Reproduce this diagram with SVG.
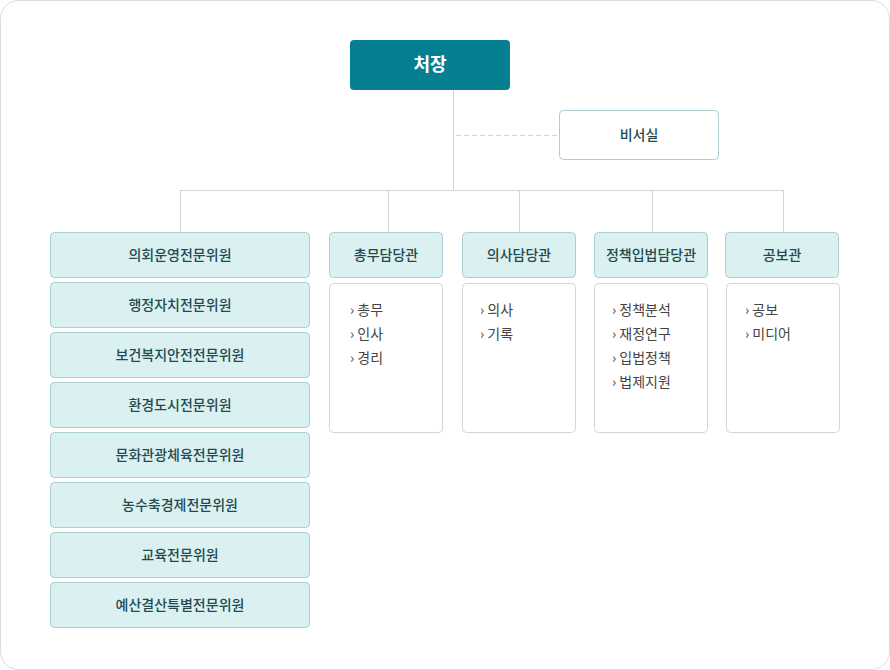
<svg xmlns="http://www.w3.org/2000/svg" width="890" height="670" viewBox="0 0 890 670">
<style>
text{font-family:"Noto Sans CJK KR","Noto Sans",sans-serif;}
.t{font-size:14px;fill:#234a4e;text-anchor:middle;font-weight:500}
.b{fill:#dbf0f1;stroke:#a8cfd2;stroke-width:1}
.w{fill:#fff;stroke:#cfd6d8;stroke-width:1}
.l{font-size:14px;fill:#444}
.c{stroke:#d4d4d4;stroke-width:1;fill:none}
</style>
<rect x="0.5" y="0.5" width="889" height="669" rx="18" fill="#fff" stroke="#dcdcdc"/>
<g id="connectors">
<path class="c" d="M453.5 90V190.5M180.5 190.5H783.5M180.5 190V232M388.5 190V232M519.5 190V232M652.5 190V232M783.5 190V232"/>
<path class="c" d="M456 135.5H559" stroke-dasharray="5 3"/>
</g>
<g id="chief"><rect x="350" y="40" width="160" height="50" rx="4" fill="#067f91"/><text x="430" y="71" font-size="18" font-weight="700" fill="#fff" text-anchor="middle">처장</text></g>
<g id="secretary"><rect x="559.5" y="110.5" width="159" height="49" rx="4" fill="#fff" stroke="#a8cfd2"/><text class="t" x="639" y="140">비서실</text></g>
<g id="committees">
<g id="c1"><rect class="b" x="50.5" y="232.5" width="259" height="45" rx="4"/><text class="t" x="180" y="260">의회운영전문위원</text></g>
<g id="c2"><rect class="b" x="50.5" y="282.5" width="259" height="45" rx="4"/><text class="t" x="180" y="310">행정자치전문위원</text></g>
<g id="c3"><rect class="b" x="50.5" y="332.5" width="259" height="45" rx="4"/><text class="t" x="180" y="360">보건복지안전전문위원</text></g>
<g id="c4"><rect class="b" x="50.5" y="382.5" width="259" height="45" rx="4"/><text class="t" x="180" y="410">환경도시전문위원</text></g>
<g id="c5"><rect class="b" x="50.5" y="432.5" width="259" height="45" rx="4"/><text class="t" x="180" y="460">문화관광체육전문위원</text></g>
<g id="c6"><rect class="b" x="50.5" y="482.5" width="259" height="45" rx="4"/><text class="t" x="180" y="510">농수축경제전문위원</text></g>
<g id="c7"><rect class="b" x="50.5" y="532.5" width="259" height="45" rx="4"/><text class="t" x="180" y="560">교육전문위원</text></g>
<g id="c8"><rect class="b" x="50.5" y="582.5" width="259" height="45" rx="4"/><text class="t" x="180" y="610">예산결산특별전문위원</text></g>
</g>
<g id="d1"><rect class="b" x="329.5" y="232.5" width="113" height="45" rx="4"/><text class="t" x="386" y="260">총무담당관</text>
<rect class="w" x="329.5" y="283.5" width="113" height="149" rx="4"/>
<text class="l" x="350" y="315">›  총무</text><text class="l" x="350" y="339">›  인사</text><text class="l" x="350" y="363">›  경리</text></g>
<g id="d2"><rect class="b" x="462.5" y="232.5" width="113" height="45" rx="4"/><text class="t" x="519" y="260">의사담당관</text>
<rect class="w" x="462.5" y="283.5" width="113" height="149" rx="4"/>
<text class="l" x="480" y="315">›  의사</text><text class="l" x="480" y="339">›  기록</text></g>
<g id="d3"><rect class="b" x="594.5" y="232.5" width="113" height="45" rx="4"/><text class="t" x="651" y="260">정책입법담당관</text>
<rect class="w" x="594.5" y="283.5" width="113" height="149" rx="4"/>
<text class="l" x="612" y="315">›  정책분석</text><text class="l" x="612" y="339">›  재정연구</text><text class="l" x="612" y="363">›  입법정책</text><text class="l" x="612" y="387">›  법제지원</text></g>
<g id="d4"><rect class="b" x="725.5" y="232.5" width="113" height="45" rx="4"/><text class="t" x="782" y="260">공보관</text>
<rect class="w" x="726.5" y="283.5" width="113" height="149" rx="4"/>
<text class="l" x="745" y="315">›  공보</text><text class="l" x="745" y="339">›  미디어</text></g>
</svg>
